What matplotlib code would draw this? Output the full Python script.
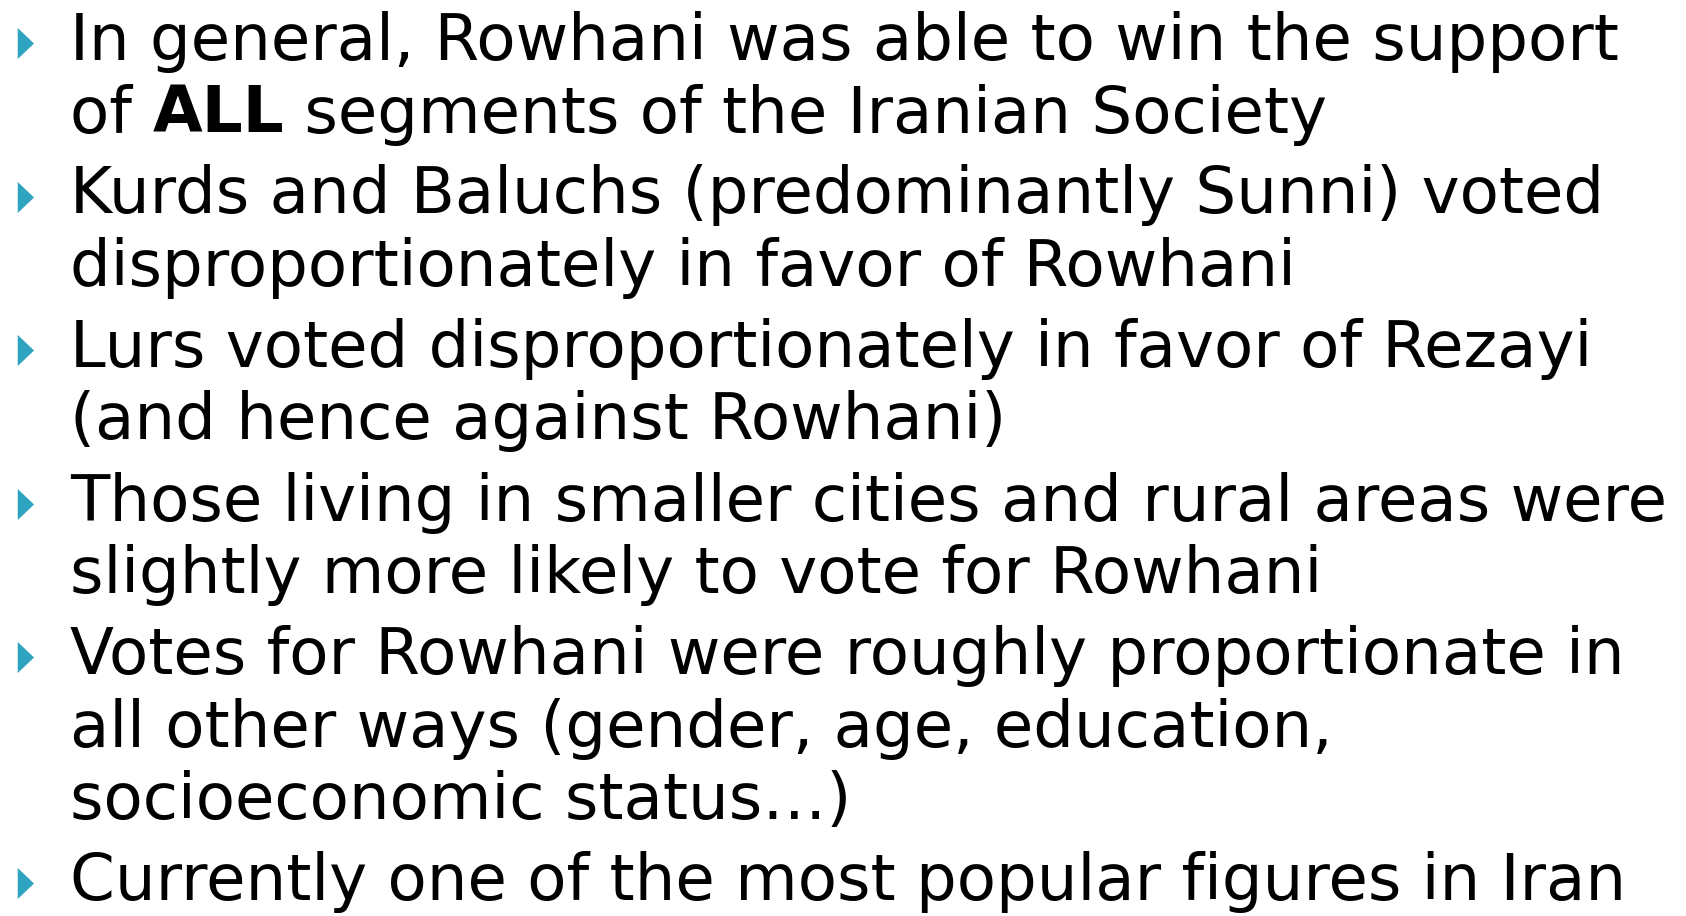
import matplotlib
matplotlib.use("Agg")
import matplotlib.pyplot as plt
from matplotlib.path import Path

# ── Slide content ─────────────────────────────────────────────────────────────
# each bullet is a list of lines, each line a list of (text, bold) runs
BULLETS = [
    [[("In general, Rowhani was able to win the support", False)],
     [("of ", False), ("ALL", True), (" segments of the Iranian Society", False)]],
    [[("Kurds and Baluchs (predominantly Sunni) voted", False)],
     [("disproportionately in favor of Rowhani", False)]],
    [[("Lurs voted disproportionately in favor of Rezayi", False)],
     [("(and hence against Rowhani)", False)]],
    [[("Those living in smaller cities and rural areas were", False)],
     [("slightly more likely to vote for Rowhani", False)]],
    [[("Votes for Rowhani were roughly proportionate in", False)],
     [("all other ways (gender, age, education,", False)],
     [("socioeconomic status\u2026)", False)]],
    [[("Currently one of the most popular figures in Iran", False)]],
]

# ── Style ─────────────────────────────────────────────────────────────────────
W, H = 1686, 916
FONT = "DejaVu Sans"
FSIZE = 46.3
CLR_TEXT = "black"
CLR_BULLET = "#2FA4C0"
X_BULLET = 25
X_TEXT = 70
Y_FIRST = 60          # baseline of first line (px from top)
LINE_STEP = 72.5
PARA_GAP = 8.5

fig = plt.figure(figsize=(W / 100, H / 100), dpi=100, facecolor="white")
ax = fig.add_axes([0, 0, 1, 1])
ax.set_xlim(0, W)
ax.set_ylim(H, 0)
ax.axis("off")
renderer = fig.canvas.get_renderer()

# narrow right-pointing triangle bullet
tri = Path([(-0.5, -1.0), (0.55, 0.0), (-0.5, 1.0), (-0.5, -1.0)],
           [Path.MOVETO, Path.LINETO, Path.LINETO, Path.CLOSEPOLY])

y = Y_FIRST
for b, lines in enumerate(BULLETS):
    if b > 0:
        y += PARA_GAP
    ax.scatter([X_BULLET], [y - 17], marker=tri, s=500, color=CLR_BULLET,
               linewidths=0, zorder=3)
    for line in lines:
        x = X_TEXT
        for txt, bold in line:
            t = ax.text(x, y, txt, fontsize=FSIZE, family=FONT,
                        fontweight="bold" if bold else "normal",
                        color=CLR_TEXT, va="baseline", ha="left")
            bb = t.get_window_extent(renderer=renderer)
            x += bb.width
        y += LINE_STEP

fig.savefig("out.png", dpi=100, facecolor="white")
